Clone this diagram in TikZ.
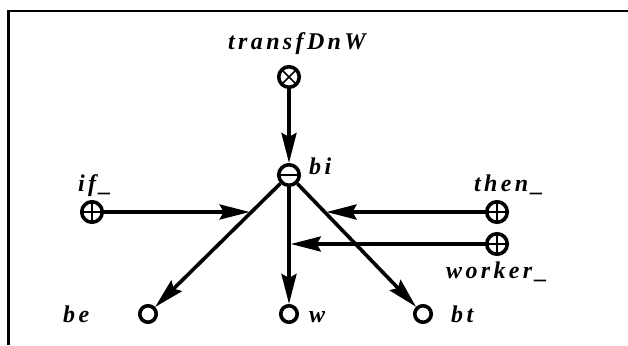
\documentclass[tikz,border=0pt]{standalone}
\usepackage{fontspec}
\setmainfont{Liberation Serif}
\newfontfamily\lblfont{Liberation Serif}[LetterSpace=14]
\usetikzlibrary{arrows.meta}
\begin{document}
\begin{tikzpicture}[x=1pt,y=-1pt,
  place/.style={circle,draw,line width=3.6pt,minimum size=20.5pt,inner sep=0pt},
  sink/.style={circle,draw,line width=3.6pt,minimum size=16.5pt,inner sep=0pt},
  glyphline/.style={line width=1.5pt},
  plusplace/.style={place,path picture={
      \draw[glyphline] (path picture bounding box.north) -- (path picture bounding box.south)
                  (path picture bounding box.west) -- (path picture bounding box.east);}},
  crossplace/.style={place,path picture={
      \draw[glyphline] (path picture bounding box.north west) -- (path picture bounding box.south east)
                  (path picture bounding box.south west) -- (path picture bounding box.north east);}},
  minusplace/.style={place,path picture={
      \draw[glyphline] (path picture bounding box.west) -- (path picture bounding box.east);}},
  lbl/.style={font=\lblfont\bfseries\itshape\fontsize{24}{27}\selectfont,
              inner sep=0pt,anchor=base west},
  flow/.style={line width=3.6pt,-{Stealth[length=30pt,width=15pt,inset=4pt]}}
]
% canvas and frame
\fill[white] (0,0) rectangle (628,345);
\useasboundingbox (0,0) rectangle (628,345);
\draw[line width=2.2pt] (8.5,345) -- (8.5,11.3) -- (628,11.3);

% places
\node[crossplace] (tD)  at (289,77)  {};
\node[minusplace] (bi)  at (289,175) {};
\node[plusplace]  (nif) at (92,212)  {};
\node[plusplace]  (nthen) at (497,212) {};
\node[plusplace]  (nworker) at (497,244) {};
\node[sink] (be) at (148,314) {};
\node[sink] (w)  at (289,314) {};
\node[sink] (bt) at (423,314) {};

% labels
\node[lbl] (ltD) at (228,49) {transfDnW};
\node[lbl] (lbi) at (309,174) {bi};
\node[lbl] (lif) at (78,191) {if\_};
\node[lbl] (lthen) at (474,191) {then\_};
\node[lbl] (lworker) at (446,278) {worker\_};
\node[lbl] (lbe) at (63,322) {be};
\node[lbl] (lw)  at (309,322) {w};
\node[lbl] (lbt) at (451,322) {bt};

% connectors
\draw[flow] (tD) -- (bi);
\draw[flow] (bi) -- (be);
\draw[flow] (bi) -- (w);
\draw[flow] (bi) -- (bt);
\draw[flow,shorten >=1.8pt] (nif) -- (intersection of bi--be and nif--nthen);
\draw[flow,shorten >=1.8pt] (nthen) -- (intersection of bi--bt and nif--nthen);
\draw[flow,shorten >=1.8pt] (nworker) -- (bi |- nworker);
\end{tikzpicture}
\end{document}
